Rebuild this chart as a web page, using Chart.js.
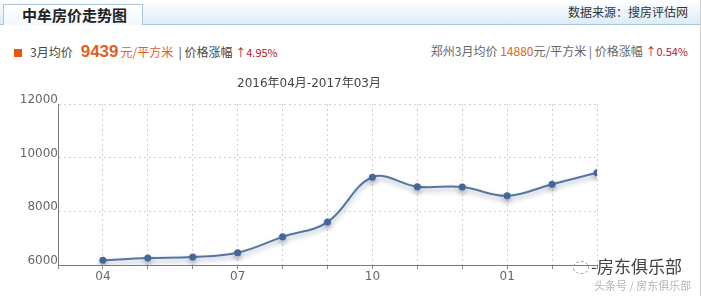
<!DOCTYPE html>
<html>
<head>
<meta charset="utf-8">
<script src="https://cdn.jsdelivr.net/npm/chart.js@4"></script>
<style>
    body { margin: 0; background: #fff; font-family: "DejaVu Sans", "Noto Sans CJK SC", sans-serif; }
    #wrap { position: relative; width: 700px; height: 296px; border-right: 1px solid #d0d0d0; overflow: hidden; }
    #bar { position: absolute; left: 0; top: 0; width: 700px; height: 24px; background: linear-gradient(#ffffff, #dcecf7); border-bottom: 1px solid #a9c6dc; }
    #tab { position: absolute; left: 3px; top: 4px; width: 140px; height: 21px; background: linear-gradient(#ffffff, #f3f8fc); border: 1px solid #a9c6dc; border-bottom: none; box-sizing: border-box;
           font: bold 15px "Noto Sans CJK SC", sans-serif; color: #222; line-height: 20px; padding-left: 18px; }
    #source { position: absolute; right: 12px; top: 3px; font: 12px "Noto Sans CJK SC", sans-serif; color: #333; }
    .info { position: absolute; top: 42px; font: 12px "Noto Sans CJK SC", sans-serif; color: #444; white-space: nowrap; }
    #infoL { left: 14px; }
    #infoR { right: 12px; color: #666; }
    .sq { display: inline-block; width: 8px; height: 8px; background: #e8560f; margin-right: 8px; vertical-align: 0px; }
    .big { font: bold 17px "Liberation Sans", Arial, sans-serif; color: #e0621c; margin: 0 2px 0 8px; }
    .org { color: #e0621c; }
    .red { color: #b0202a; font-size: 11px; }
    #wm { position: absolute; left: 573px; top: 253px; font: 17px "Noto Sans CJK SC", sans-serif; color: #444; white-space: nowrap; }
    #wm .ico { display: inline-block; width: 14px; height: 11px; border: 1px dashed #999; border-radius: 50%; vertical-align: -1px; margin-right: 2px; }
    #wm2 { position: absolute; left: 594px; top: 277px; font: 11px "Noto Sans CJK SC", sans-serif; color: #b5b5b5; white-space: nowrap; }
    canvas { position: absolute; left: 0; top: 0; }
</style>
</head>
<body>
<div id="wrap">
    <div id="bar"></div>
    <div id="tab">中牟房价走势图</div>
    <div id="source">数据来源：搜房评估网</div>
    <div class="info" id="infoL"><span class="sq"></span>3月均价<span class="big">9439</span><span class="org">元/平方米</span> &nbsp;| 价格涨幅 <span class="red">↑4.95%</span></div>
    <div class="info" id="infoR">郑州3月均价 <span class="org">14880</span>元/平方米 | 价格涨幅 <span class="red">↑0.54%</span></div>
    <canvas id="myChart" width="701" height="296"></canvas>
    <div id="wm"><span class="ico"></span>-房东俱乐部</div>
    <div id="wm2">头条号 / 房东俱乐部</div>
</div>
<script>
const months = ['04', '05', '06', '07', '08', '09', '10', '11', '12', '01', '02', '03'];
const prices = [6175, 6260, 6300, 6460, 7050, 7600, 9270, 8920, 8910, 8580, 9010, 9439];
const shownMonths = ['04', '07', '10', '01'];
const yTicks = [6000, 8000, 10000, 12000];
const periodTitle = '2016年04月-2017年03月';

// тень под линией
const lineShadow = {
    id: 'lineShadow',
    beforeDatasetDraw(chart) {
        const {ctx} = chart;
        ctx.save();
        ctx.shadowColor = 'rgba(60, 80, 110, 0.45)';
        ctx.shadowBlur = 5;
        ctx.shadowOffsetY = 3;
    },
    afterDatasetDraw(chart) {
        chart.ctx.restore();
    }
};

const ctx = document.getElementById('myChart');
new Chart(ctx, {
    type: 'line',
    data: {
        datasets: [{
            data: prices.map((v, i) => ({x: i, y: v})),
            borderColor: '#56769f',
            borderWidth: 2,
            tension: 0.38,
            pointRadius: 3.5,
            pointBackgroundColor: '#44679a',
            pointBorderWidth: 0,
            fill: false,
        }]
    },
    options: {
        responsive: false,
        animation: false,
        layout: { padding: { left: 0, top: 104, right: 104, bottom: 0 } },
        scales: {
            x: {
                type: 'linear',
                min: -1,
                max: months.length - 1,
                afterFit(scale) { scale.height = 31; },
                afterBuildTicks(scale) {
                    scale.ticks = [-1].concat(months.map((m, i) => i)).map((v) => ({value: v}));
                },
                ticks: {
                    autoSkip: false,
                    maxRotation: 0,
                    padding: 1,
                    color: '#666',
                    font: { family: 'DejaVu Sans', size: 12 },
                    callback: (v) => (v >= 0 && shownMonths.includes(months[v])) ? months[v] : '',
                },
                grid: {
                    color: '#cfcfcf',
                    lineWidth: 1,
                    tickLength: 4,
                    tickColor: '#888',
                    tickBorderDash: [],
                },
                border: { color: '#7a7a7a', width: 1, dash: [2, 3] },
            },
            y: {
                min: yTicks[0],
                max: yTicks[yTicks.length - 1],
                afterFit(scale) { scale.width = 58; },
                afterBuildTicks(scale) {
                    scale.ticks = yTicks.map((v) => ({value: v}));
                },
                ticks: {
                    padding: 0,
                    labelOffset: -4,
                    color: '#666',
                    font: { family: 'DejaVu Sans', size: 12 },
                    callback: (v) => String(v),
                },
                grid: { color: '#cfcfcf', lineWidth: 1, drawTicks: false },
                border: { color: '#7a7a7a', width: 1, dash: [2, 3] },
            }
        },
        plugins: {
            legend: { display: false },
            tooltip: { enabled: false },
            title: { display: false },
        }
    },
    plugins: [lineShadow, {
        id: 'periodTitle',
        afterDraw(chart) {
            const c = chart.ctx;
            c.save();
            c.font = '12px "DejaVu Sans", "Noto Sans CJK SC"';
            c.fillStyle = '#444';
            c.textAlign = 'center';
            c.textBaseline = 'middle';
            c.fillText(periodTitle, 309, 84);
            c.restore();
        }
    }]
});
</script>
</body>
</html>
